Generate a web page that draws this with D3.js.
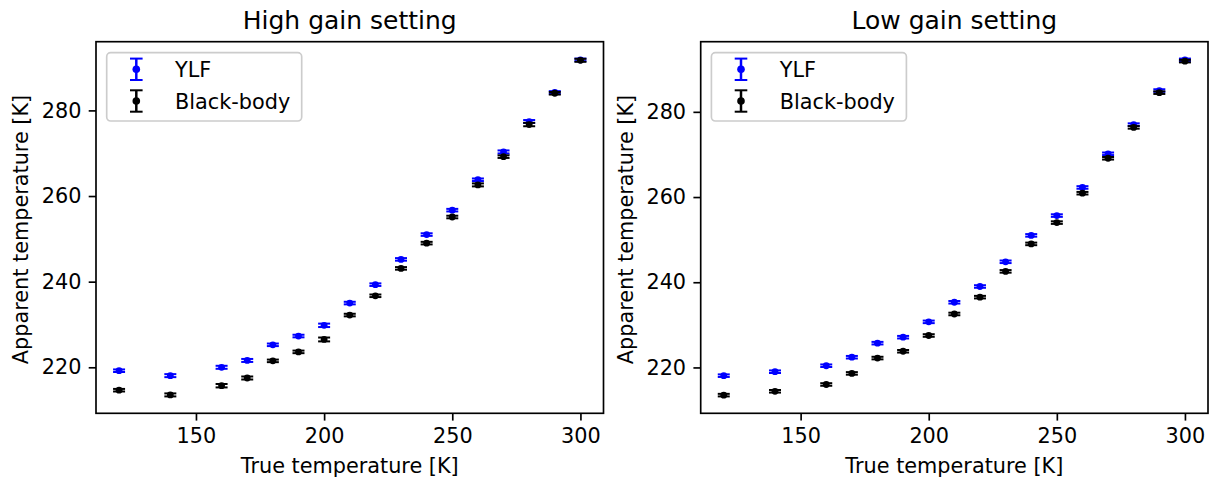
<!DOCTYPE html>
<html><head><meta charset="utf-8">
<script src="https://cdn.jsdelivr.net/npm/d3@7"></script>
<style>
body{margin:0;background:#fff}
svg{display:block}
text{font-family:"DejaVu Sans",sans-serif;fill:#000}
</style>
</head><body>
<svg id="c" width="1210" height="483"></svg>
<script>
// ---- data ----
const trueTemp = [120,140,160,170,180,190,200,210,220,230,240,250,260,270,280,290,300];
const highYLF  = [219.2,218.05,220.0,221.6,225.25,227.3,229.8,235.0,239.3,245.2,251.0,256.7,263.8,270.3,277.4,284.2,291.8];
const highBB   = [214.65,213.55,215.7,217.5,221.5,223.6,226.5,232.2,236.7,243.1,249.0,255.1,262.6,269.2,276.7,284.0,291.7];
const highYLFErr = [0.3,0.35,0.35,0.35,0.3,0.3,0.4,0.3,0.3,0.3,0.3,0.3,0.3,0.35,0.35,0.3,0.3];
const highBBErr  = [0.3,0.35,0.4,0.35,0.3,0.3,0.45,0.3,0.3,0.3,0.3,0.3,0.35,0.3,0.4,0.3,0.35];
const lowYLF   = [218.07,219.0,220.4,222.4,225.7,227.1,230.7,235.3,239.0,244.8,251.0,255.65,262.25,270.15,277.0,285.0,292.2];
const lowBB    = [213.5,214.4,216.0,218.6,222.2,223.8,227.5,232.55,236.5,242.55,249.0,254.0,260.9,269.1,276.35,284.5,291.9];
const lowYLFErr = [0.3,0.3,0.3,0.3,0.3,0.3,0.3,0.3,0.3,0.3,0.3,0.3,0.3,0.3,0.3,0.3,0.3];
const lowBBErr  = [0.3,0.3,0.3,0.3,0.3,0.3,0.3,0.3,0.3,0.3,0.3,0.3,0.3,0.3,0.3,0.3,0.3];
const xTicks = [150,200,250,300];
const yTicks = [220,240,260,280];
const panelTitles = ["High gain setting","Low gain setting"];
const seriesNames = ["YLF","Black-body"];
const seriesColors = ["#0000ff","#000000"];
const xLabel = "True temperature [K]";
const yLabel = "Apparent temperature [K]";

// ---- layout ----
const svg = d3.select("#c");
const plotTop = 41.7, plotBottom = 413.3;
const panels = [
  {left:96, right:603.5, title:panelTitles[0], series:[[highYLF,highYLFErr],[highBB,highBBErr]]},
  {left:700.7, right:1208, title:panelTitles[1], series:[[lowYLF,lowYLFErr],[lowBB,lowBBErr]]}
];
const FS = 20.8, TFS = 25;
const capW = 12, mr = 3.4;

function pad(ext){const r=ext[1]-ext[0];return [ext[0]-0.05*r, ext[1]+0.05*r];}

panels.forEach(p=>{
  const xs = d3.scaleLinear().domain(pad(d3.extent(trueTemp))).range([p.left,p.right]);
  let lo=Infinity, hi=-Infinity;
  p.series.forEach(([v,e])=>v.forEach((d,i)=>{lo=Math.min(lo,d-e[i]);hi=Math.max(hi,d+e[i]);}));
  const ys = d3.scaleLinear().domain(pad([lo,hi])).range([plotBottom,plotTop]);
  const g = svg.append("g");

  // axes
  const xa = g.append("g").attr("transform",`translate(0,${plotBottom})`)
    .call(d3.axisBottom(xs).tickValues(xTicks).tickSize(7.3).tickPadding(7.3).tickFormat(d3.format("d")));
  const ya = g.append("g").attr("transform",`translate(${p.left},0)`)
    .call(d3.axisLeft(ys).tickValues(yTicks).tickSize(7.3).tickPadding(7.3).tickFormat(d3.format("d")));
  [xa,ya].forEach(a=>{
    a.select(".domain").remove();
    a.selectAll(".tick line").attr("stroke","#000").attr("stroke-width",1.67);
    a.selectAll(".tick text").attr("font-size",FS).attr("font-family","DejaVu Sans").attr("fill","#000");
  });

  // data
  p.series.forEach(([vals,errs],si)=>{
    const col = seriesColors[si];
    const sg = g.append("g");
    trueTemp.forEach((t,i)=>{
      const x = xs(t), y0 = ys(vals[i]-errs[i]), y1 = ys(vals[i]+errs[i]);
      sg.append("line").attr("x1",x).attr("x2",x).attr("y1",y0).attr("y2",y1).attr("stroke",col).attr("stroke-width",2.5);
      [y0,y1].forEach(yy=>sg.append("line").attr("x1",x-capW/2).attr("x2",x+capW/2).attr("y1",yy).attr("y2",yy).attr("stroke",col).attr("stroke-width",2));
      sg.append("circle").attr("cx",x).attr("cy",ys(vals[i])).attr("r",mr).attr("fill",col);
    });
  });

  // frame
  g.append("rect").attr("x",p.left).attr("y",plotTop).attr("width",p.right-p.left).attr("height",plotBottom-plotTop)
    .attr("fill","none").attr("stroke","#000").attr("stroke-width",1.67);

  // title & labels
  g.append("text").attr("x",(p.left+p.right)/2).attr("y",29).attr("text-anchor","middle").attr("font-size",TFS).text(p.title);
  g.append("text").attr("x",(p.left+p.right)/2).attr("y",473).attr("text-anchor","middle").attr("font-size",FS).text(xLabel);
  g.append("text").attr("transform",`translate(${p.left-67.7},${(plotTop+plotBottom)/2+2}) rotate(-90)`)
    .attr("text-anchor","middle").attr("font-size",FS).text(yLabel);

  // legend
  const lx = p.left+10.7, ly = 52.7;
  const lg = g.append("g");
  lg.append("rect").attr("x",lx).attr("y",ly).attr("width",195).attr("height",68.3).attr("rx",4)
    .attr("fill","#fff").attr("fill-opacity",0.8).attr("stroke","#cccccc").attr("stroke-width",1.67);
  seriesNames.forEach((nm,si)=>{
    const col = seriesColors[si];
    const hx = lx+29.6, cy = ly+16.6+si*31.7;
    lg.append("line").attr("x1",hx).attr("x2",hx).attr("y1",cy-10.7).attr("y2",cy+10.7).attr("stroke",col).attr("stroke-width",2.5);
    [cy-10.7,cy+10.7].forEach(yy=>lg.append("line").attr("x1",hx-6.3).attr("x2",hx+6.3).attr("y1",yy).attr("y2",yy).attr("stroke",col).attr("stroke-width",2));
    lg.append("circle").attr("cx",hx).attr("cy",cy).attr("r",mr+0.4).attr("fill",col);
    lg.append("text").attr("x",lx+68.3).attr("y",cy+7.8).attr("font-size",FS).text(nm);
  });
});
</script>
</body></html>
